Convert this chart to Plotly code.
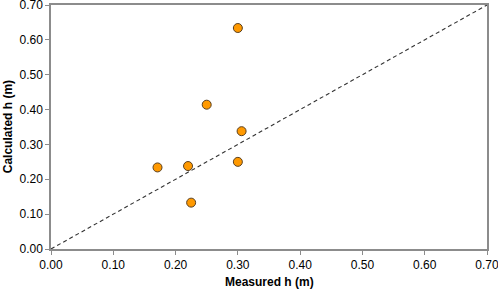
import plotly.graph_objects as go

measured = [0.30, 0.25, 0.306, 0.30, 0.22, 0.171, 0.225]
calculated = [0.634, 0.414, 0.338, 0.250, 0.238, 0.234, 0.133]
line_x = [0.0, 0.70]
line_y = [0.0, 0.70]
tick_vals = [0.0, 0.1, 0.2, 0.3, 0.4, 0.5, 0.6, 0.7]
tick_text = ["0.00", "0.10", "0.20", "0.30", "0.40", "0.50", "0.60", "0.70"]

FONT = "Liberation Sans, Arial"

fig = go.Figure()
fig.add_trace(go.Scatter(x=line_x, y=line_y, mode="lines",
                         line=dict(color="#333333", width=1.1, dash="4px,3px"),
                         showlegend=False, hoverinfo="skip"))
fig.add_trace(go.Scatter(x=measured, y=calculated, mode="markers",
                         marker=dict(size=9, color="#FF9900",
                                     line=dict(color="#5a4020", width=1)),
                         showlegend=False))

axis_common = dict(range=[0, 0.7], tickvals=tick_vals, ticktext=tick_text,
                   showgrid=False, zeroline=False, showline=True,
                   linecolor="#8c8c8c", linewidth=1.5, mirror=True,
                   ticks="outside", ticklen=4, tickcolor="#8c8c8c",
                   automargin=False, ticklabeloverflow="allow",
                   tickfont=dict(family=FONT, size=12, color="#000000"))

fig.update_xaxes(**axis_common)
fig.update_yaxes(**axis_common)

fig.add_annotation(text="<b>Measured h (m)</b>", xref="paper", yref="paper",
                   x=0.5, y=-0.135, yanchor="middle", xanchor="center", showarrow=False,
                   font=dict(family=FONT, size=12, color="#000000"))
fig.add_annotation(text="<b>Calculated h (m)</b>", xref="paper", yref="paper",
                   x=-0.098, y=0.5, xanchor="center", yanchor="middle", showarrow=False,
                   textangle=-90,
                   font=dict(family=FONT, size=12, color="#000000"))

fig.update_layout(width=498, height=295,
                  margin=dict(l=51, r=11, t=5, b=46, autoexpand=False),
                  paper_bgcolor="white", plot_bgcolor="white")

fig.write_html("out.html", config={"displayModeBar": False},
               post_script="document.body.style.margin='0';document.body.style.overflow='hidden';")
